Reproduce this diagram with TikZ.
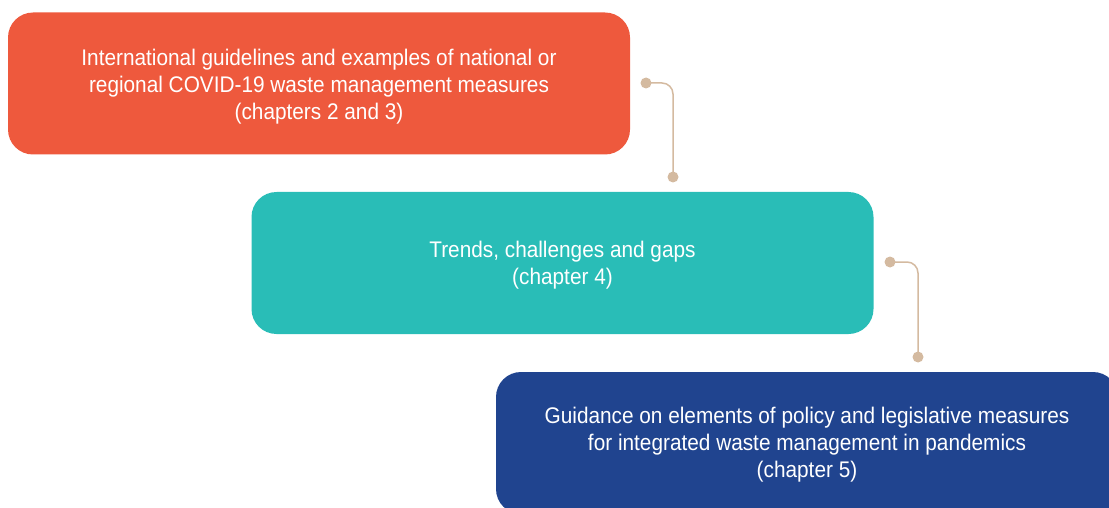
\documentclass[tikz,border=0pt]{standalone}
\usepackage{fontspec}
\setmainfont[FakeStretch=0.92]{Liberation Sans}
\definecolor{boxred}{RGB}{238,89,61}
\definecolor{boxteal}{RGB}{41,189,183}
\definecolor{boxblue}{RGB}{32,68,143}
\definecolor{conn}{RGB}{212,186,160}
\begin{document}
\begin{tikzpicture}[x=1pt,y=-1pt,
  chapbox/.style={rounded corners=25pt, minimum width=622pt, minimum height=142pt, inner sep=0pt},
  chaptext/.style={align=center, text=white, inner sep=0pt, font=\fontsize{22.6}{27}\selectfont},
  link/.style={draw=conn, line width=1.5pt, rounded corners=11pt},
  linkdot/.style={circle, fill=conn, inner sep=0pt, minimum size=11pt}]
\useasboundingbox (0,0) rectangle (1109,508);
\clip (0,0) rectangle (1109,508);
\node[chapbox, fill=boxred] (red) at (319,83.5) {};
\node[chapbox, fill=boxteal] (teal) at (562.5,263) {};
\node[chapbox, fill=boxblue] (blue) at (807,443) {};
\node[chaptext] (redtext) at ([yshift=-3pt]red.center) {International guidelines and examples of national or\\regional COVID-19 waste management measures\\(chapters 2 and 3)};
\node[chaptext] (tealtext) at ([yshift=-2pt]teal.center) {Trends, challenges and gaps\\(chapter 4)};
\node[chaptext] (bluetext) at ([yshift=-2pt]blue.center) {Guidance on elements of policy and legislative measures\\for integrated waste management in pandemics\\(chapter 5)};
\node[linkdot] (d1a) at (646,83) {};
\node[linkdot] (d1b) at (673,177) {};
\node[linkdot] (d2a) at (890,262) {};
\node[linkdot] (d2b) at (918,357) {};
\draw[link] (d1a.center) -| (d1b.center);
\draw[link] (d2a.center) -| (d2b.center);
\end{tikzpicture}
\end{document}
